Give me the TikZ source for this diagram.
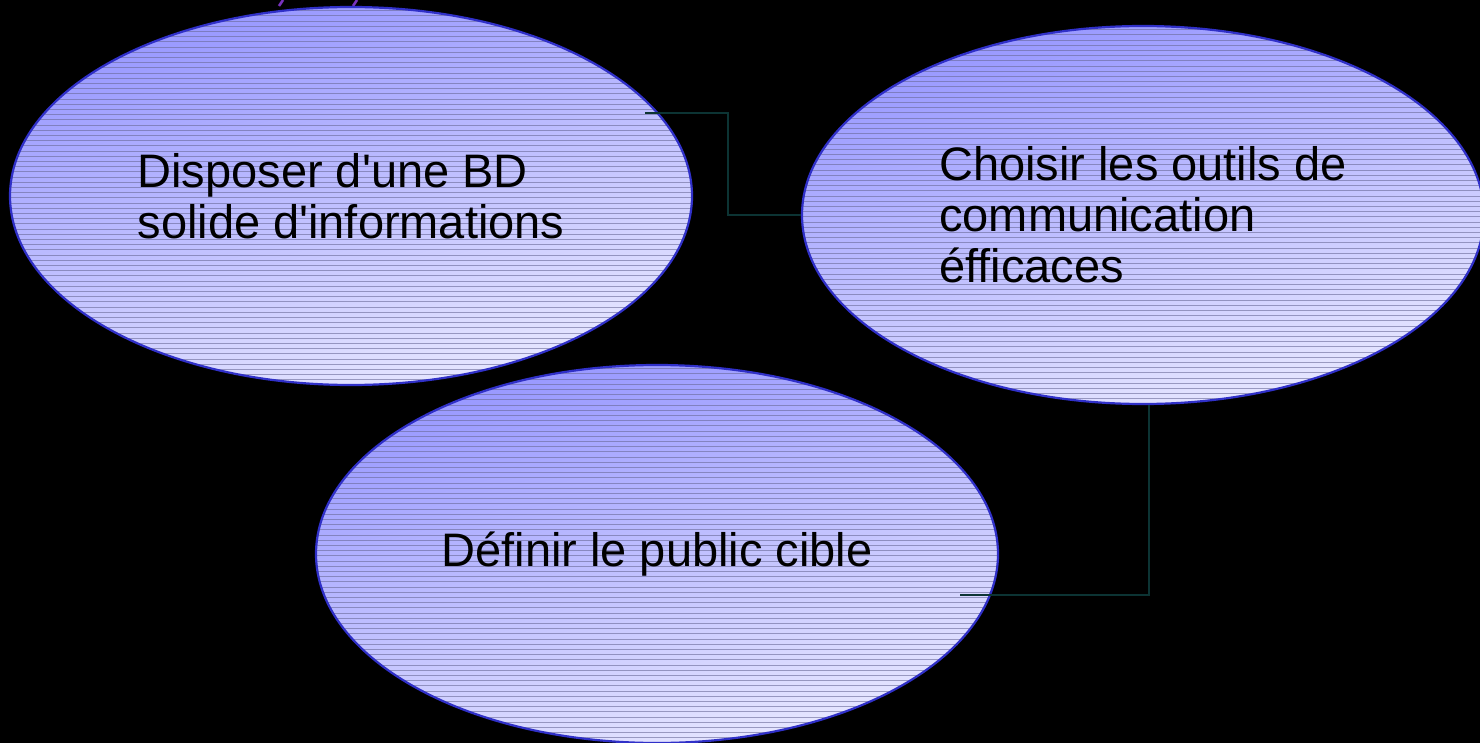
\documentclass[tikz,border=0pt]{standalone}
\usepackage{fontspec}
\setmainfont{Liberation Sans}
\usepackage{tikz}
\usetikzlibrary{shapes.geometric,calc}
\definecolor{bubbletop}{RGB}{150,150,255}
\definecolor{bubblelow}{RGB}{232,232,255}
\definecolor{bubbleedge}{RGB}{48,48,200}
\definecolor{stripe}{RGB}{105,105,150}
\definecolor{linkteal}{RGB}{12,52,52}
\definecolor{markpurple}{RGB}{120,50,190}

\begin{document}
\begin{tikzpicture}[x=1pt,y=-1pt,
  bubble/.style={ellipse,draw=bubbleedge,line width=2.2pt,inner sep=0pt,
    minimum width=682pt,minimum height=378pt,align=left,
    font=\fontsize{47}{51}\selectfont,
    path picture={
      \shade[top color=bubbletop,bottom color=bubblelow,shading angle=15]
        (path picture bounding box.south west) rectangle (path picture bounding box.north east);
      \foreach \k in {0,5.2,...,385}
        \draw[stripe,line width=0.7pt,opacity=0.6]
          ([yshift=\k pt]path picture bounding box.south west) -- ([yshift=\k pt]path picture bounding box.south east);
    }},
  link/.style={draw=linkteal,line width=2pt}]
  % Background
  \useasboundingbox (0,0) rectangle (1480,743);
  \fill[black] (0,0) rectangle (1480,743);

  % Marks at the top edge
  \draw[markpurple,line width=2.5pt] (283,0) -- (279,6);
  \draw[markpurple,line width=2.5pt] (357,0) -- (353,6);

  % Bubbles
  \node[bubble] (bd) at (351,196) {Disposer d\textquotesingle une BD\\solide d\textquotesingle informations};
  \node[bubble] (tools) at (1143,215) {Choisir les outils de\\communication\\éfficaces};
  \node[bubble] (public) at (657,554) {Définir le public cible};

  % Links
  \draw[link] ([xshift=-14pt]bd.15) -- ++(83,0) |- (tools.west);
  \draw[link] ([xshift=6pt]tools.south) |- ([xshift=-31pt]public.-7);
\end{tikzpicture}
\end{document}
